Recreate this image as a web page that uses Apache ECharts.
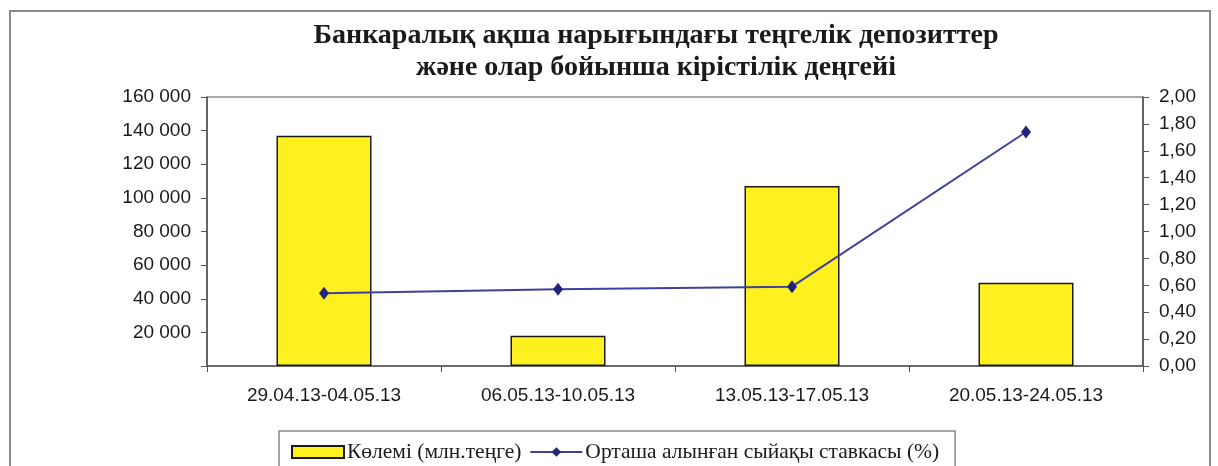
<!DOCTYPE html>
<html>
<head>
<meta charset="utf-8">
<script src="https://cdn.jsdelivr.net/npm/echarts@6/dist/echarts.min.js"></script>
<style>
html,body{margin:0;padding:0;background:#fff;}
#chart{width:1218px;height:466px;}
</style>
</head>
<body>
<div id="chart"></div>
<script>
const titleLines = ['Банкаралық ақша нарығындағы теңгелік депозиттер', 'және олар бойынша кірістілік деңгейі'];
const categories = ['29.04.13-04.05.13', '06.05.13-10.05.13', '13.05.13-17.05.13', '20.05.13-24.05.13'];
const volumeName = 'Көлемі (млн.теңге)';
const rateName = 'Орташа алынған сыйақы ставкасы (%)';
const volumes = [137000, 18000, 107000, 49500];
const rates = [0.54, 0.57, 0.59, 1.74];

const chart = echarts.init(document.getElementById('chart'));
const axisColor = '#555';
const sans = 'Liberation Sans, Arial, sans-serif';
const serif = 'Liberation Serif, Times New Roman, serif';

chart.setOption({
  animation: false,
  backgroundColor: '#fff',
  graphic: [{
    type: 'rect',
    shape: { x: 10, y: 11, width: 1200, height: 470 },
    style: { fill: 'none', stroke: '#8a8a8a', lineWidth: 2 },
    silent: true
  }],
  title: {
    text: titleLines.join('\n'),
    left: 651,
    top: 15,
    textAlign: 'center',
    textStyle: { fontFamily: serif, fontWeight: 'bold', fontSize: 28, lineHeight: 32, color: '#1a1a1a' }
  },
  legend: {
    left: 279,
    top: 431,
    width: 800,
    borderColor: '#8a8a8a',
    borderWidth: 1.5,
    padding: [10, 16, 20, 12],
    itemGap: 8,
    itemWidth: 52,
    itemHeight: 12,
    textStyle: { fontFamily: serif, fontSize: 21.5, color: '#1a1a1a', padding: [0, 0, 0, -2] },
    data: [
      { name: volumeName, icon: 'rect' },
      { name: rateName }
    ]
  },
  grid: {
    left: 207, right: 75, top: 97, bottom: 100,
    show: true, borderColor: axisColor, borderWidth: 1.2
  },
  xAxis: {
    type: 'category',
    data: categories,
    boundaryGap: true,
    axisLine: { lineStyle: { color: axisColor, width: 1.5 } },
    axisTick: { show: true, length: 6, lineStyle: { color: axisColor } },
    axisLabel: { fontFamily: sans, fontSize: 19, color: '#1a1a1a', margin: 20 }
  },
  yAxis: [{
    type: 'value',
    min: 0, max: 160000, interval: 20000,
    axisLine: { show: true, lineStyle: { color: axisColor, width: 1.5 } },
    axisTick: { show: true, length: 6, lineStyle: { color: axisColor } },
    splitLine: { show: false },
    axisLabel: {
      fontFamily: sans, fontSize: 19, color: '#1a1a1a', margin: 16,
      formatter: v => v === 0 ? '' : String(v).replace(/\B(?=(\d{3})+(?!\d))/g, ' ')
    }
  }, {
    type: 'value',
    min: 0, max: 2, interval: 0.2,
    position: 'right',
    axisLine: { show: true, lineStyle: { color: axisColor, width: 1.5 } },
    axisTick: { show: true, length: 6, inside: false, lineStyle: { color: axisColor } },
    splitLine: { show: false },
    axisLabel: {
      fontFamily: sans, fontSize: 19, color: '#1a1a1a', margin: 16,
      formatter: v => v.toFixed(2).replace('.', ',')
    }
  }],
  series: [{
    name: volumeName,
    type: 'bar',
    yAxisIndex: 0,
    data: volumes,
    barWidth: 95,
    itemStyle: { color: '#FFF01F', borderColor: '#1a1a1a', borderWidth: 1.5 }
  }, {
    name: rateName,
    type: 'line',
    yAxisIndex: 1,
    data: rates,
    symbol: 'diamond',
    symbolSize: [10, 13],
    lineStyle: { color: '#40409e', width: 2 },
    itemStyle: { color: '#23237a' }
  }]
});
</script>
</body>
</html>
